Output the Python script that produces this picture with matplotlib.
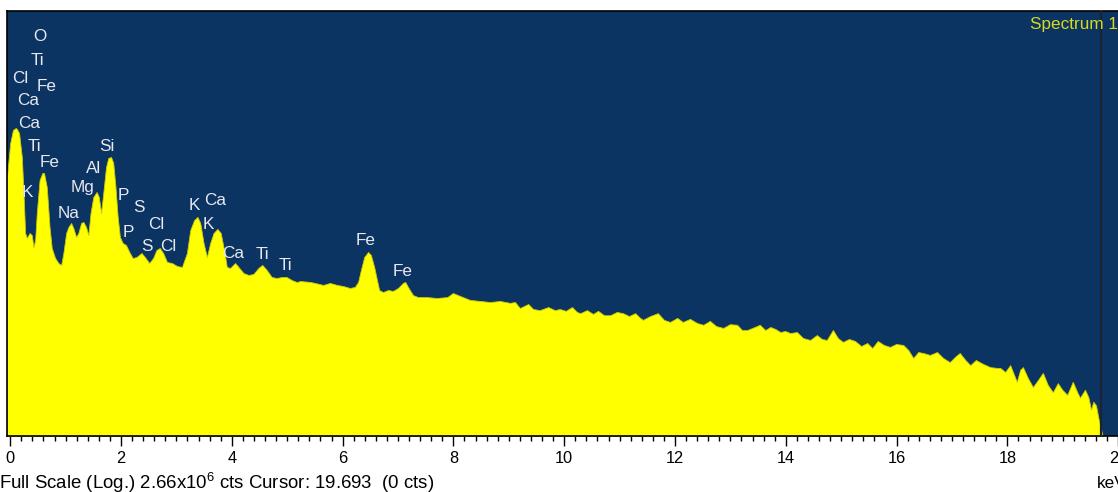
import matplotlib
matplotlib.use("Agg")
import matplotlib.pyplot as plt
from matplotlib.ticker import MultipleLocator

plt.rcParams['font.family'] = ['Liberation Sans', 'DejaVu Sans']
plt.rcParams['mathtext.fontset'] = 'custom'
plt.rcParams['mathtext.rm'] = 'Liberation Sans'
plt.rcParams['mathtext.default'] = 'regular'

# EDS spectrum: energy (keV) and counts per channel
energy_kev = [
    -0.06, 0.00, 0.05, 0.10, 0.12, 0.16, 0.21, 0.24, 0.27, 0.30, 0.35, 0.39, 0.42, 0.45,
    0.48, 0.53, 0.58, 0.61, 0.66, 0.71, 0.75, 0.81, 0.87, 0.92, 0.96, 1.01, 1.05, 1.10,
    1.14, 1.19, 1.23, 1.28, 1.32, 1.37, 1.41, 1.45, 1.50, 1.56, 1.60, 1.64, 1.68, 1.73,
    1.77, 1.82, 1.86, 1.90, 1.94, 1.98, 2.03, 2.09, 2.15, 2.21, 2.28, 2.37, 2.43, 2.51,
    2.58, 2.64, 2.70, 2.76, 2.83, 2.92, 3.01, 3.10, 3.19, 3.25, 3.32, 3.38, 3.43, 3.49,
    3.55, 3.61, 3.67, 3.74, 3.80, 3.86, 3.91, 3.97, 4.06, 4.12, 4.21, 4.30, 4.39, 4.48,
    4.55, 4.63, 4.72, 4.81, 4.90, 4.99, 5.08, 5.17, 5.24, 5.42, 5.50, 5.65, 5.77, 5.90,
    6.01, 6.13, 6.22, 6.28, 6.33, 6.39, 6.46, 6.51, 6.57, 6.62, 6.66, 6.73, 6.82, 6.91,
    7.00, 7.09, 7.13, 7.18, 7.27, 7.36, 7.52, 7.70, 7.89, 7.99, 8.12, 8.30, 8.48, 8.66,
    8.84, 9.02, 9.11, 9.20, 9.35, 9.44, 9.56, 9.71, 9.83, 9.92, 10.03, 10.14, 10.23, 10.29,
    10.41, 10.52, 10.61, 10.72, 10.83, 10.95, 11.06, 11.17, 11.28, 11.37, 11.42, 11.55, 11.69, 11.80,
    11.91, 12.04, 12.14, 12.27, 12.40, 12.51, 12.63, 12.74, 12.87, 12.99, 13.12, 13.21, 13.30, 13.35,
    13.44, 13.53, 13.63, 13.72, 13.81, 13.90, 13.99, 14.08, 14.20, 14.31, 14.44, 14.56, 14.65, 14.74,
    14.85, 14.94, 15.03, 15.14, 15.25, 15.36, 15.47, 15.56, 15.66, 15.77, 15.88, 15.99, 16.12, 16.21,
    16.30, 16.39, 16.48, 16.60, 16.73, 16.84, 16.96, 17.05, 17.14, 17.24, 17.33, 17.43, 17.56, 17.69,
    17.81, 17.87, 17.96, 18.05, 18.12, 18.17, 18.23, 18.28, 18.37, 18.46, 18.55, 18.64, 18.73, 18.82,
    18.91, 18.99, 19.08, 19.18, 19.26, 19.31, 19.40, 19.46, 19.51, 19.55, 19.60, 19.64, 19.67, 19.71,
    19.73,
]
counts = [
    7950, 26900, 42300, 45300, 43800, 38000, 16500, 4710, 1170, 985, 1170, 1090, 720, 918,
    2350, 7410, 9460, 9460, 5810, 1440, 695, 491, 412, 385, 584, 1170, 1440, 1660,
    1390, 1020, 1170, 1660, 1720, 1440, 1090, 2350, 4100, 4880, 4100, 2350, 4710, 11650,
    15950, 16500, 13400, 5810, 2050, 1020, 828, 771, 605, 491, 508, 584, 508, 412,
    491, 648, 695, 584, 427, 412, 372, 359, 584, 1300, 1840, 2050, 1660, 828,
    508, 828, 1170, 1350, 1170, 648, 359, 347, 412, 359, 291, 272, 281, 347,
    385, 323, 253, 245, 253, 253, 228, 213, 220, 213, 206, 192, 206, 192,
    185, 173, 179, 213, 323, 508, 605, 545, 359, 228, 161, 150, 161, 156,
    173, 206, 213, 179, 135, 126, 126, 122, 126, 145, 131, 114, 110, 106,
    110, 103, 106, 86, 99, 83, 80, 89, 80, 83, 78, 89, 75, 72,
    80, 70, 78, 67, 67, 75, 72, 65, 72, 61, 57, 65, 72, 57,
    53, 61, 53, 59, 51, 48, 55, 46, 43, 49, 48, 40, 40, 41.5,
    44.5, 48, 40, 44.5, 41.5, 37.3, 38.7, 36, 37.3, 30.3, 28.3, 33.6, 29.3, 28.3,
    40, 30.3, 26.4, 29.3, 27.3, 22.9, 25.5, 21.4, 27.3, 23.8, 22.2, 24.6, 23.8, 20.0,
    15.1, 18.6, 18.0, 16.8, 18.6, 15.1, 13.1, 15.6, 18.0, 14.1, 11.8, 14.1, 12.3, 11.0,
    10.7, 10.7, 9.3, 11.8, 8.4, 6.6, 10.0, 11.0, 7.5, 5.5, 7.0, 9.0, 5.9, 4.6,
    6.3, 5.0, 4.2, 6.6, 4.6, 3.8, 5.0, 3.9, 2.5, 3.3, 2.9, 1.9, 1.5, 1.07,
    1.0,
]

# Element line markers: name, energy (keV), label height (counts)
element_names = ["O", "Ti", "Cl", "Fe", "Ca", "Ca", "Ti", "Fe", "K", "Na", "Mg", "Al", "Si",
                 "P", "S", "P", "Cl", "S", "Cl", "K", "Ca", "K", "Ca", "Ti", "Ti", "Fe", "Fe"]
element_kev = [0.54, 0.50, 0.19, 0.66, 0.32, 0.34, 0.43, 0.72, 0.30, 1.06, 1.30, 1.51, 1.75,
               2.04, 2.32, 2.14, 2.63, 2.47, 2.85, 3.32, 3.70, 3.57, 4.02, 4.55, 4.96, 6.42, 7.09]
element_cts = [1.11e6, 4.83e5, 2.58e5, 1.95e5, 1.16e5, 5.21e4, 2.34e4, 1.34e4, 4880, 2350, 5810,
               11250, 2.34e4, 4250, 2800, 1210, 1550, 745, 720, 3000, 3570, 1550, 584, 564, 372,
               887, 312]

full_scale = 2.66e6
cursor_kev = 19.693
cursor_cts = 0
spectrum_name = "Spectrum 1"

W, H = 1118, 492
fig = plt.figure(figsize=(W / 100, H / 100), dpi=100)
fig.patch.set_facecolor("white")

x0_px, x_scale = 10.2, 55.4          # pixel position of 0 keV, pixels per keV
left_px, right_px = 6.8, 1119.3
ax = fig.add_axes([left_px / W, 56 / H, (right_px - left_px) / W, 425 / H])
ax.set_facecolor("#0B3462")
ax.set_yscale("log")
ax.set_ylim(1, full_scale)
ax.set_xlim((left_px - x0_px) / x_scale, (right_px - x0_px) / x_scale)

ax.fill_between(energy_kev, counts, 1, color="#FFFF00", linewidth=0.6,
                edgecolor="#C8C810", zorder=2)

for name, e, c in zip(element_names, element_kev, element_cts):
    ax.text(e, c, name, ha="center", va="center", color="#E8E8EE",
            fontsize=12.3, zorder=4)

ax.axvline(cursor_kev, color="#1C2433", linewidth=1.6, zorder=3)

ax.xaxis.set_major_locator(MultipleLocator(2))
ax.xaxis.set_minor_locator(MultipleLocator(0.2))
ax.tick_params(axis="x", which="major", direction="out", length=7, width=1,
               pad=3.5, labelsize=11.8, colors="black")
ax.tick_params(axis="x", which="minor", direction="out", length=3.5, width=1)
ax.tick_params(axis="y", which="both", left=False, labelleft=False)

for side in ("top", "left", "bottom"):
    ax.spines[side].set_color("black")
    ax.spines[side].set_linewidth(1.2)
ax.spines["right"].set_visible(False)

fig.text(1.0, 1 - 24 / H, spectrum_name, ha="right", va="center",
         color="#D6DA1E", fontsize=12.3)
fig.text(-0.001, 1 - 482.5 / H,
         r"Full Scale (Log.) 2.66x10$^{6}$ cts Cursor: %.3f  (%d cts)" % (cursor_kev, cursor_cts),
         ha="left", va="center", color="black", fontsize=13.4)
fig.text(1097 / W, 1 - 484 / H, "keV", ha="left", va="center", color="black", fontsize=12.3)

fig.savefig("out.png", dpi=100)
